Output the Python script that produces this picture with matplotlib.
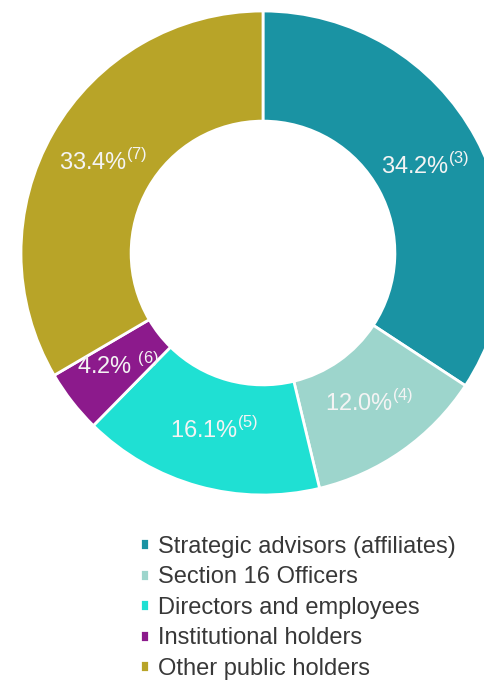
import numpy as np
import matplotlib.pyplot as plt

plt.rcParams['font.family'] = ['Liberation Sans', 'DejaVu Sans']
plt.rcParams['mathtext.fontset'] = 'custom'
plt.rcParams['mathtext.rm'] = 'Liberation Sans'

groups = ["Strategic advisors (affiliates)", "Section 16 Officers",
          "Directors and employees", "Institutional holders",
          "Other public holders"]
shares = [34.2, 12.0, 16.1, 4.2, 33.4]
notes = ["(3)", "(4)", "(5)", "(6)", "(7)"]
colors = ["#1a93a3", "#9dd5cc", "#1fe0d3", "#8c1a8c", "#b8a428"]

fig = plt.figure(figsize=(4.84, 6.82), dpi=100)
# square axes, pie centre at about (263, 253) px, radius 242 px
ax = fig.add_axes([21 / 484, 1 - 495 / 682, 484 / 484, 484 / 682])

wedges, _ = ax.pie(shares, colors=colors, startangle=90, counterclock=False,
                   radius=1.0, wedgeprops=dict(width=0.455, edgecolor="white", linewidth=2))

# percent labels with superscript note numbers
for w, s, n in zip(wedges, shares, notes):
    ang = np.deg2rad((w.theta1 + w.theta2) / 2)
    r = 0.76
    sep = " " if n == "(6)" else ""
    ax.text(r * np.cos(ang), r * np.sin(ang), f"{s:.1f}%{sep}$^{{{n}}}$",
            ha="center", va="center", fontsize=17, color="#f4f4f4")

ax.set_xlim(-1, 1)
ax.set_ylim(-1, 1)
ax.set_aspect("equal")
ax.axis("off")

fig.legend(wedges, groups, loc="upper left", bbox_to_anchor=(128 / 484, 1 - 524 / 682),
           frameon=False, fontsize=17, handlelength=0.4, handleheight=0.4,
           handletextpad=0.35, labelspacing=0.36, borderpad=0, labelcolor="#383838")

fig.savefig("out.png", dpi=100)
